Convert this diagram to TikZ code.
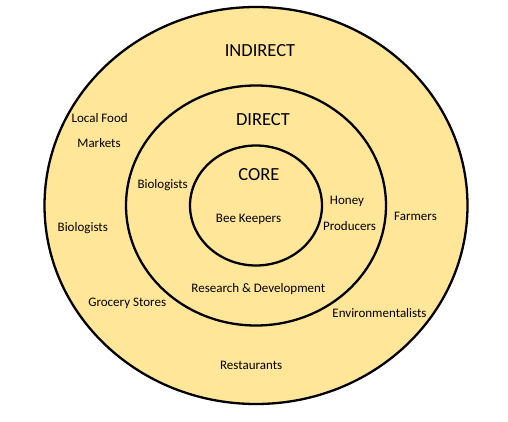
\documentclass[tikz,border=0pt]{standalone}
\usepackage{fontspec}
\setmainfont{Carlito}
\usepackage{tikz}
\usepackage{xcolor}
\definecolor{ringfill}{RGB}{255,230,153}

\begin{document}
\begin{tikzpicture}[x=1pt,y=-1pt,
  ring/.style={draw=black,fill=ringfill,line width=2.3pt},
  title/.style={anchor=base,inner sep=0pt,font=\fontsize{18.5}{22}\selectfont},
  lbl/.style={anchor=base,inner sep=0pt,font=\fontsize{13}{15}\selectfont}]
  \useasboundingbox (0,0) rectangle (508,422);
  \coordinate (c) at(256,205.5);
  % Rings
  \draw[ring] (c) ellipse [x radius=211.5, y radius=198.5];
  \draw[ring] (c) ellipse [x radius=130, y radius=120];
  \draw[ring] (c) ellipse [x radius=66, y radius=60];
  % Ring titles
  \node[title] (indirect) at(260,56.7){INDIRECT};
  \node[title] (direct) at(263,126){DIRECT};
  \node[title] (core) at(259,180.7){CORE};
  % Core
  \node[lbl] (beekeepers) at(248.5,222){Bee Keepers};
  % Direct ring
  \node[lbl] (biologistsin) at(162.7,188){Biologists};
  \node[lbl] (honey) at(347,204.3){Honey};
  \node[lbl] (producers) at(349.5,230.7){Producers};
  \node[lbl] (research) at(258.3,292.3){Research \& Development};
  % Indirect ring
  \node[lbl] (localfood) at(99.7,122.3){Local Food};
  \node[lbl] (markets) at(99,148){Markets};
  \node[lbl] (biologistsout) at(82.8,231){Biologists};
  \node[lbl] (grocery) at(127.2,306.3){Grocery Stores};
  \node[lbl] (farmers) at(415.5,220.7){Farmers};
  \node[lbl] (environ) at(379.5,317){Environmentalists};
  \node[lbl] (restaurants) at(251.2,369){Restaurants};
\end{tikzpicture}
\end{document}
